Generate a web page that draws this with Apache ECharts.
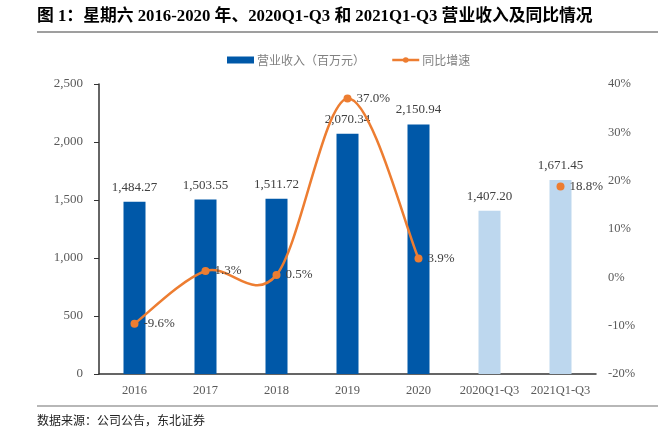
<!DOCTYPE html>
<html>
<head>
<meta charset="utf-8">
<script src="https://cdn.jsdelivr.net/npm/echarts@6/dist/echarts.min.js"></script>
<style>
html,body{margin:0;padding:0;background:#fff;}
#c{width:658px;height:432px;}
</style>
</head>
<body>
<div id="c"></div>
<script>
const categories = ['2016', '2017', '2018', '2019', '2020', '2020Q1-Q3', '2021Q1-Q3'];
const revenue = [1484.27, 1503.55, 1511.72, 2070.34, 2150.94, 1407.20, 1671.45];
const growth = [-9.6, 1.3, 0.5, 37.0, 3.9, null, 18.8];
const leftTicks = { min: 0, max: 2500, interval: 500 };
const rightTicks = { min: -20, max: 40, interval: 10 };
const titleText = '图 1：星期六 2016-2020 年、2020Q1-Q3 和 2021Q1-Q3 营业收入及同比情况';
const sourceText = '数据来源：公司公告，东北证券';
const seriesNames = ['营业收入（百万元）', '同比增速'];

const DARK = '#0058A8', LIGHT = '#BDD7EE', ORANGE = '#ED7D31';
const serif = '"Liberation Serif","Times New Roman",serif';
const cjk = '"Noto Sans CJK SC","Noto Sans",sans-serif';
const fmt2 = v => v.toLocaleString('en-US', { minimumFractionDigits: 2, maximumFractionDigits: 2 });

// smooth curve through the growth points (Catmull-Rom style), positioned by the axes
function renderCurve(params, api) {
  const i = params.dataIndex;
  if (growth[i] == null || i + 1 >= growth.length || growth[i + 1] == null) return null;
  const pt = k => api.coord([k, growth[k]]);
  const p1 = pt(i), p2 = pt(i + 1);
  const p0 = (i > 0 && growth[i - 1] != null) ? pt(i - 1) : p1;
  const p3 = (i + 2 < growth.length && growth[i + 2] != null) ? pt(i + 2) : p2;
  const t = 1 / 6;
  return {
    type: 'bezierCurve',
    shape: {
      x1: p1[0], y1: p1[1], x2: p2[0], y2: p2[1],
      cpx1: p1[0] + (p2[0] - p0[0]) * t, cpy1: p1[1] + (p2[1] - p0[1]) * t,
      cpx2: p2[0] - (p3[0] - p1[0]) * t, cpy2: p2[1] - (p3[1] - p1[1]) * t
    },
    style: { stroke: ORANGE, lineWidth: 2.5, fill: null }
  };
}

const chart = echarts.init(document.getElementById('c'));
chart.setOption({
  animation: false,
  backgroundColor: '#fff',
  grid: { left: 99, right: 62, top: 84, bottom: 58, containLabel: false },
  legend: {
    top: 49, left: 222, itemGap: 26,
    textStyle: { fontFamily: cjk, fontSize: 12, color: '#808080', padding: [0, 0, 0, -2] },
    data: [
      { name: seriesNames[0], icon: 'rect', itemStyle: { color: DARK } },
      { name: seriesNames[1], itemStyle: { color: ORANGE },
        lineStyle: { color: ORANGE, width: 2.5, opacity: 1 } }
    ],
    itemWidth: 27, itemHeight: 7
  },
  xAxis: {
    type: 'category', data: categories,
    axisLine: { lineStyle: { color: '#333', width: 1.5 } },
    axisTick: { show: false },
    axisLabel: { interval: 0, fontFamily: serif, fontSize: 12.5, color: '#595959', margin: 10 }
  },
  yAxis: [
    {
      type: 'value', min: leftTicks.min, max: leftTicks.max, interval: leftTicks.interval,
      axisLine: { show: true, lineStyle: { color: '#333', width: 1.5 } },
      axisTick: { show: true, length: 5, lineStyle: { color: '#333' } },
      splitLine: { show: false },
      axisLabel: { fontFamily: serif, fontSize: 13, color: '#595959', margin: 16,
        formatter: v => v.toLocaleString('en-US') }
    },
    {
      type: 'value', min: rightTicks.min, max: rightTicks.max, interval: rightTicks.interval,
      axisLine: { show: false }, axisTick: { show: false }, splitLine: { show: false },
      axisLabel: { fontFamily: serif, fontSize: 12.5, color: '#595959', margin: 12,
        formatter: v => v + '%' }
    }
  ],
  series: [
    {
      name: seriesNames[0], type: 'bar', yAxisIndex: 0, barWidth: 22,
      itemStyle: { color: DARK },
      data: revenue.map((v, i) => ({
        value: v,
        itemStyle: { color: categories[i].indexOf('Q') >= 0 ? LIGHT : DARK }
      })),
      label: { show: true, position: 'top', distance: 8, fontFamily: serif, fontSize: 13,
        color: '#404040', formatter: p => fmt2(p.value) },
      z: 2
    },
    {
      type: 'custom', yAxisIndex: 1, silent: true,
      data: growth.map((v, i) => [i, v == null ? 0 : v]),
      renderItem: renderCurve,
      z: 4
    },
    {
      name: seriesNames[1], type: 'line', yAxisIndex: 1, data: growth,
      connectNulls: false,
      symbol: 'circle', symbolSize: 8, showSymbol: true,
      lineStyle: { color: ORANGE, width: 2.5, opacity: 0 },
      itemStyle: { color: ORANGE },
      label: { show: true, position: 'right', distance: 5, fontFamily: serif, fontSize: 13,
        color: '#404040', formatter: p => p.value.toFixed(1) + '%' },
      z: 5
    }
  ],
  graphic: [
    { type: 'text', left: 37, top: 8,
      style: { text: titleText, fontFamily: '"Liberation Serif","Noto Sans CJK SC",serif', fontSize: 16.8, fontWeight: 'bold', fill: '#000' } },
    { type: 'line', shape: { x1: 37, y1: 32, x2: 658, y2: 32 }, style: { stroke: '#7f7f7f', lineWidth: 1.5 } },
    { type: 'line', shape: { x1: 37, y1: 406, x2: 658, y2: 406 }, style: { stroke: '#9f9f9f', lineWidth: 1.5 } },
    { type: 'text', left: 37, top: 414,
      style: { text: sourceText, fontFamily: cjk, fontSize: 12, fill: '#222' } }
  ]
});
</script>
</body>
</html>
